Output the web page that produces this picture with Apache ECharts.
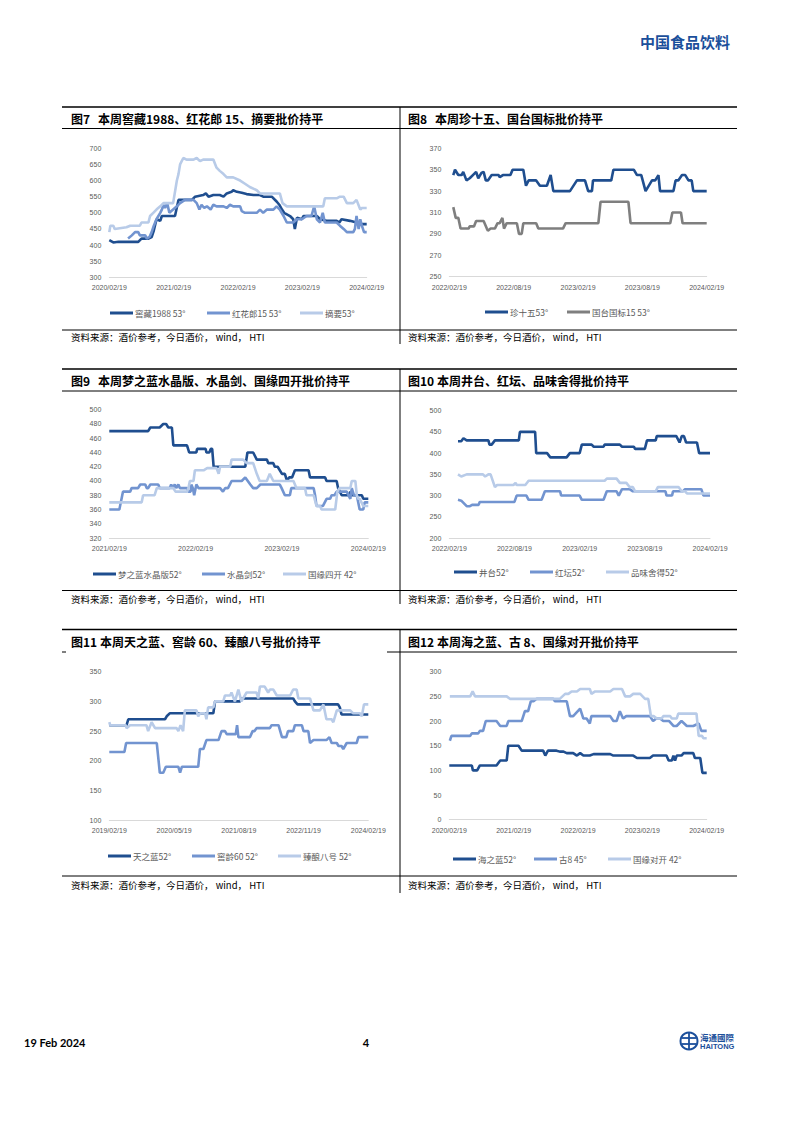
<!DOCTYPE html>
<html><head><meta charset="utf-8">
<script src="https://cdn.jsdelivr.net/npm/echarts@6/dist/echarts.min.js"></script>
<style>html,body{margin:0;padding:0;background:#fff}#page{width:793px;height:1122px}</style>
</head><body><div id="page"></div>
<script>
// ---------------- DATA (x = months since first tick) ----------------
const c7Ticks = ['2020/02/19','2021/02/19','2022/02/19','2023/02/19','2024/02/19'];
const c7Names = ['窖藏1988 53°','红花郎15 53°','摘要53°'];
const c7Jiaocang = [[0,415],[0.75,408],[1.7,410],[5.4,410],[6.0,420],[7.3,420],[7.9,425],[8.3,445],[8.8,480],[9.5,475],[9.8,490],[12.25,490],[12.9,540],[15.4,540],[16.0,550],[17.5,555],[18.0,560],[18.5,550],[19.4,555],[20.6,555],[21.3,550],[21.9,560],[22.8,565],[23.1,570],[23.8,565],[24.7,562],[25.6,558],[26.9,555],[28.1,555],[28.7,550],[30.3,550],[31.2,535],[31.7,525],[32.2,510],[32.6,500],[33.7,490],[34.3,480],[34.6,450],[35.0,485],[35.9,480],[36.2,490],[38.7,490],[39.3,480],[40.5,475],[42.4,475],[42.9,470],[43.3,480],[44.9,475],[46.1,470],[47.1,465],[48,465]];
const c7Honghualang = [[3.5,420],[4.2,430],[4.8,440],[5.4,440],[5.7,430],[6.7,430],[7.0,420],[7.5,425],[7.9,440],[8.3,460],[8.8,480],[9.5,500],[9.8,510],[10.1,525],[10.4,515],[10.8,530],[11.2,500],[11.9,510],[12.6,520],[13.2,530],[14.1,540],[15.7,540],[16.3,530],[16.8,510],[17.2,525],[17.7,515],[18.2,520],[18.9,510],[19.4,525],[20.0,520],[21.3,520],[21.9,515],[22.5,525],[23.1,520],[24.4,520],[24.7,505],[25.3,500],[27.5,500],[28.1,510],[28.7,500],[29.4,510],[30.6,510],[31.2,520],[31.8,510],[32.5,490],[33.1,470],[34.3,470],[35.0,480],[35.9,480],[36.8,490],[37.7,490],[38.2,520],[38.7,480],[39.3,470],[39.8,500],[40.2,470],[42.4,470],[43.0,460],[43.7,450],[44.3,440],[45.5,440],[45.8,450],[46.1,490],[46.5,450],[46.8,480],[47.1,460],[47.5,440],[48,440]];
const c7Zhaiyao = [[0,440],[0.2,460],[0.75,460],[1.0,450],[3.2,455],[3.9,460],[5.7,460],[6.0,470],[7.3,470],[7.6,490],[8.2,500],[8.8,510],[9.5,520],[10.1,530],[11.9,530],[12.3,570],[12.6,600],[12.9,620],[13.2,650],[13.8,670],[14.4,665],[15.7,665],[16.3,670],[16.9,660],[17.5,665],[19.4,665],[20.0,640],[20.6,630],[21.3,620],[21.9,610],[23.1,610],[24.4,600],[25.3,590],[26.2,580],[27.5,570],[28.1,560],[31.8,560],[32.3,530],[33.1,520],[39.9,520],[40.2,545],[42.4,545],[43.0,550],[43.7,550],[44.3,530],[45.5,530],[46.1,540],[46.8,510],[47.1,515],[48,515]];

const c8Ticks = ['2022/02/19','2022/08/19','2023/02/19','2023/08/19','2024/02/19'];
const c8Names = ['珍十五53°','国台国标15 53°'];
const c8Zhenshiwu = [[0.37,345],[0.53,350],[0.84,345],[1.15,345],[1.3,348],[1.6,340],[1.9,342],[2.2,345],[2.5,348],[2.7,342],[3.0,347],[3.2,348],[3.4,340],[3.6,340],[3.95,345],[4.6,345],[4.7,343],[5.0,345],[5.7,345],[5.9,350],[6.9,350],[7.15,335],[7.4,340],[8.1,340],[8.45,335],[9.1,335],[9.45,345],[9.7,330],[11.25,330],[11.9,340],[12.65,340],[12.95,330],[13.3,330],[13.4,340],[15.1,340],[15.3,350],[17.2,350],[17.5,345],[17.9,345],[18.3,330],[18.9,340],[19.2,340],[19.5,345],[19.65,330],[20.9,330],[21.1,340],[21.35,340],[21.7,345],[22.0,345],[22.3,340],[22.6,340],[22.75,330],[24,330]];
const c8Guotai = [[0.37,315],[0.6,305],[0.84,305],[1.05,295],[1.8,295],[1.9,297],[2.3,297],[2.5,302],[3.2,302],[3.5,295],[3.6,293],[3.85,295],[4.25,295],[4.5,300],[4.7,300],[4.95,305],[5.1,295],[5.35,300],[6.3,300],[6.5,290],[6.75,290],[6.9,300],[8.1,300],[8.3,295],[10.6,295],[10.85,300],[13.9,300],[14.1,320],[16.7,320],[16.9,300],[20.6,300],[20.8,310],[21.6,310],[21.75,300],[24,300]];

const c9Ticks = ['2021/02/19','2022/02/19','2023/02/19','2024/02/19'];
const c9Names = ['梦之蓝水晶版52°','水晶剑52°','国缘四开 42°'];
const c9Mengzhilan = [[0,470],[5.4,470],[5.7,475],[7.0,475],[7.5,480],[7.9,480],[8.2,475],[8.7,475],[8.9,450],[10.8,450],[11.1,440],[12.1,440],[12.2,445],[13.4,445],[13.5,440],[13.9,440],[14.1,445],[14.3,445],[14.5,420],[18.9,420],[19.2,440],[20.0,440],[20.5,430],[21.9,430],[22.1,425],[22.8,425],[23.0,420],[23.4,420],[24.0,410],[24.4,410],[24.7,400],[25.0,405],[25.4,405],[25.8,415],[27.7,415],[27.9,405],[30.0,405],[30.2,400],[31.6,400],[31.8,390],[32.3,380],[33.3,380],[33.5,385],[33.7,380],[35.1,380],[35.3,375],[36,375]];
const c9Shuijingjian = [[0,360],[1.4,360],[1.9,385],[2.9,385],[3.1,390],[4.0,390],[4.3,395],[5.0,395],[5.2,390],[5.4,390],[5.7,395],[6.8,395],[7.0,390],[8.4,390],[8.6,395],[8.8,390],[9.1,395],[9.3,390],[9.6,395],[9.8,390],[10.8,390],[11.0,385],[11.3,385],[11.4,395],[11.6,390],[11.8,380],[12.1,395],[12.4,390],[15.4,390],[15.8,385],[16.1,390],[16.5,390],[17.0,400],[18.4,400],[18.9,405],[19.6,395],[20.0,390],[20.5,390],[21.0,395],[23.7,395],[23.95,390],[24.4,380],[25.1,380],[25.3,390],[28.4,390],[28.6,380],[28.8,365],[29.7,365],[30.2,375],[30.7,375],[30.9,380],[31.3,380],[31.6,385],[33.0,385],[33.5,375],[33.7,390],[34.0,380],[34.4,380],[34.7,365],[34.8,360],[35.3,360],[35.5,370],[36,370]];
const c9Guoyuan4 = [[0,370],[4.5,370],[4.7,380],[6.3,380],[6.6,390],[8.9,390],[9.2,385],[10.8,385],[11.0,390],[11.2,400],[11.7,400],[11.9,415],[13.1,415],[13.6,418],[14.9,418],[15.2,410],[15.4,420],[16.8,420],[17.0,430],[18.6,430],[19.1,425],[20.0,425],[20.5,410],[20.9,400],[21.9,400],[22.3,410],[22.8,400],[25.6,400],[26.0,390],[27.2,390],[27.4,380],[28.4,380],[28.8,365],[29.3,365],[29.5,360],[31.4,360],[31.7,385],[32.0,390],[33.5,390],[33.7,400],[34.2,400],[34.4,380],[34.6,375],[34.8,375],[35.3,365],[36,365]];

const c10Ticks = ['2022/02/19','2022/08/19','2023/02/19','2023/08/19','2024/02/19'];
const c10Names = ['井台52°','红坛52°','品味舍得52°'];
const c10Jingtai = [[0.8,428],[1.1,428],[1.3,435],[1.6,430],[3.6,430],[3.7,420],[3.9,420],[4.2,430],[6.4,430],[6.5,450],[7.9,450],[8.0,400],[9.0,400],[9.3,390],[10.8,390],[11.1,400],[12.0,400],[12.2,420],[13.1,420],[13.3,415],[14.2,415],[14.3,420],[15.7,420],[15.9,415],[17.0,415],[17.1,410],[18.0,410],[18.2,430],[19.0,430],[19.1,440],[20.9,440],[21.2,425],[21.4,440],[21.6,440],[21.8,425],[22.8,425],[23.0,400],[24,400]];
const c10Hongtan = [[0.8,290],[1.1,288],[1.6,275],[1.9,275],[2.1,278],[2.7,278],[2.8,285],[6.0,285],[6.2,300],[7.1,300],[7.3,290],[8.5,290],[8.8,310],[10.2,310],[10.3,300],[12.0,300],[12.2,290],[14.2,290],[14.5,310],[15.4,310],[15.6,300],[15.9,315],[16.6,315],[16.9,310],[19.9,310],[20.0,300],[20.5,300],[20.6,310],[21.5,310],[21.7,315],[23.2,315],[23.4,300],[24,300]];
const c10Pinwei = [[0.8,350],[1.1,345],[1.6,350],[3.1,350],[3.3,345],[3.6,350],[3.8,350],[4.2,320],[4.4,325],[5.9,325],[6.1,330],[6.2,325],[7.0,325],[7.3,335],[14.3,335],[14.5,340],[15.4,340],[15.7,330],[16.3,330],[16.6,320],[16.9,320],[17.1,310],[19.0,310],[19.2,320],[21.1,320],[21.4,310],[21.7,310],[21.9,305],[24,305]];

const c11Ticks = ['2019/02/19','2020/05/19','2021/08/19','2022/11/19','2024/02/19'];
const c11Names = ['天之蓝52°','窖龄60 52°','臻酿八号 52°'];
const c11Tianzhilan = [[0,260],[4.0,260],[4.4,270],[12.9,270],[13.3,275],[14.0,280],[24.1,280],[24.5,300],[30.3,300],[30.7,305],[42.6,305],[43.0,300],[43.6,295],[53.0,295],[53.4,290],[53.8,278],[60,278]];
const c11Jiaoling = [[0,215],[3.5,215],[3.9,230],[11.0,230],[11.7,180],[12.5,180],[13.1,190],[16.0,190],[16.4,180],[16.8,190],[20.6,190],[21.0,220],[21.8,220],[22.5,235],[25.3,235],[26.0,250],[26.8,250],[27.2,245],[29.3,245],[29.6,260],[29.9,240],[32.6,240],[33.2,250],[33.6,250],[34.1,255],[37.2,255],[37.6,260],[39.2,260],[40.0,240],[41.0,240],[41.4,250],[42.6,250],[43.0,260],[44.6,260],[45.0,250],[46.1,250],[46.5,230],[47.3,235],[50.3,235],[51.0,240],[51.5,230],[52.7,230],[53.1,225],[53.8,225],[54.2,220],[55.0,230],[57.3,230],[57.7,240],[60,240]];
const c11Zhenniang = [[0,265],[0.2,260],[3.8,260],[4.0,255],[4.8,260],[8.6,260],[9.0,250],[9.8,265],[10.6,255],[15.6,255],[16.0,250],[16.5,260],[17.1,250],[17.5,285],[20.2,285],[20.6,275],[21.0,280],[22.2,280],[22.5,270],[22.9,290],[24.1,290],[24.5,300],[26.4,300],[26.8,310],[28.0,310],[28.3,315],[29.1,300],[29.9,320],[30.6,300],[31.8,315],[34.1,315],[34.5,305],[34.9,325],[36.0,325],[36.8,315],[37.2,320],[38.0,320],[38.8,310],[41.9,310],[42.6,320],[43.4,320],[43.8,305],[46.5,305],[47.3,285],[48.8,285],[49.6,295],[50.3,270],[51.5,270],[51.9,265],[52.7,285],[55.8,285],[56.5,280],[58.1,280],[58.5,275],[59.0,295],[60,295]];

const c12Ticks = ['2020/02/19','2021/02/19','2022/02/19','2023/02/19','2024/02/19'];
const c12Names = ['海之蓝52°','古8 45°','国缘对开 42°'];
const c12Haizhilan = [[0,110],[4.2,110],[4.4,100],[5.2,100],[5.7,110],[8.8,110],[9.5,120],[10.7,120],[11.0,150],[12.9,150],[13.5,140],[17.5,140],[17.9,130],[18.4,140],[20.0,140],[20.6,138],[21.3,138],[21.9,135],[23.1,135],[23.8,130],[24.4,135],[25.0,130],[26.2,130],[26.9,133],[30.0,133],[30.6,130],[34.3,130],[35.0,125],[37.4,125],[38.0,130],[40.5,130],[40.9,120],[41.5,120],[41.8,130],[42.1,120],[42.4,130],[43.3,130],[43.7,135],[45.5,135],[45.8,125],[46.8,125],[47.2,95],[48,95]];
const c12Gu8 = [[0.1,160],[0.4,170],[3.9,170],[4.2,175],[5.4,175],[5.7,180],[6.3,180],[6.8,200],[8.8,200],[9.5,190],[10.7,190],[11.0,200],[13.5,200],[14.1,220],[14.7,220],[15.2,240],[15.7,240],[16.3,245],[19.4,245],[19.7,240],[21.9,240],[22.5,210],[23.1,210],[24.4,225],[25.0,205],[25.6,205],[26.2,195],[26.5,210],[30.0,210],[30.6,200],[31.2,200],[31.8,220],[32.4,205],[33.0,210],[37.4,210],[38.0,200],[38.6,205],[39.3,205],[39.9,200],[41.0,200],[41.8,190],[42.4,190],[43.3,200],[44.3,190],[45.5,190],[46.5,195],[47.0,180],[48,180]];
const c12Guoyuan2 = [[0.1,250],[3.9,250],[4.35,260],[4.8,250],[10.7,250],[11.3,245],[20.6,245],[21.6,255],[22.2,255],[22.8,260],[23.8,260],[24.4,265],[26.2,265],[26.5,255],[27.2,260],[30.0,260],[30.6,265],[32.2,265],[32.8,250],[33.7,250],[34.3,255],[35.6,255],[36.5,245],[37.1,245],[37.6,210],[38.1,210],[38.7,205],[39.6,205],[39.9,210],[41.2,210],[41.5,205],[42.4,205],[42.7,215],[46.1,215],[46.5,170],[47.1,170],[47.4,165],[48,165]];

const titles = [
  ['图7','本周窖藏1988、红花郎 15、摘要批价持平'],
  ['图8','本周珍十五、国台国标批价持平'],
  ['图9','本周梦之蓝水晶版、水晶剑、国缘四开批价持平'],
  ['图10 本周井台、红坛、品味舍得批价持平',''],
  ['图11 本周天之蓝、窖龄 60、臻酿八号批价持平',''],
  ['图12 本周海之蓝、古 8、国缘对开批价持平','']
];
const sourceText = '资料来源：酒价参考，今日酒价， wind， HTI';

// ---------------- LAYOUT / STYLE ----------------
const CJK = "'Noto Sans CJK SC', sans-serif";
const NUM = "'Liberation Sans', 'Noto Sans CJK SC', sans-serif";
const DARK = '#1f4e8f', MID = '#7294d0', LIGHT = '#b8cbe8', GRAY = '#7f7f7f';

const panels = [
  {grid:{left:109.3, top:148.3, width:257.4, height:129}, xMax:48, xInt:12, ticks:c7Ticks, yMin:300, yMax:700, yInt:50,
   series:[[c7Names[0],c7Jiaocang,DARK],[c7Names[1],c7Honghualang,MID],[c7Names[2],c7Zhaiyao,LIGHT]], legY:313, legX:[110,207,300]},
  {grid:{left:449.3, top:148.3, width:257.4, height:128.4}, xMax:24, xInt:6, ticks:c8Ticks, yMin:250, yMax:370, yInt:20,
   series:[[c8Names[0],c8Zhenshiwu,DARK],[c8Names[1],c8Guotai,GRAY]], legY:312, legX:[485,567]},
  {grid:{left:109.3, top:409.7, width:259, height:128.3}, xMax:36, xInt:12, ticks:c9Ticks, yMin:320, yMax:500, yInt:20,
   series:[[c9Names[0],c9Mengzhilan,DARK],[c9Names[1],c9Shuijingjian,MID],[c9Names[2],c9Guoyuan4,LIGHT]], legY:574, legX:[93,202,283]},
  {grid:{left:449.3, top:410.7, width:260.7, height:127.3}, xMax:24, xInt:6, ticks:c10Ticks, yMin:200, yMax:500, yInt:50,
   series:[[c10Names[0],c10Jingtai,DARK],[c10Names[1],c10Hongtan,MID],[c10Names[2],c10Pinwei,LIGHT]], legY:572, legX:[454,530,606]},
  {grid:{left:109.3, top:671.7, width:259, height:148.6}, xMax:60, xInt:15, ticks:c11Ticks, yMin:100, yMax:350, yInt:50,
   series:[[c11Names[0],c11Tianzhilan,DARK],[c11Names[1],c11Jiaoling,MID],[c11Names[2],c11Zhenniang,LIGHT]], legY:856, legX:[108,192,278]},
  {grid:{left:449.3, top:671.7, width:257.4, height:148}, xMax:48, xInt:12, ticks:c12Ticks, yMin:0, yMax:300, yInt:50,
   series:[[c12Names[0],c12Haizhilan,DARK],[c12Names[1],c12Gu8,MID],[c12Names[2],c12Guoyuan2,LIGHT]], legY:859, legX:[453,534,608]}
];

const rows = [
  {top:107, under:128.5, src:330, srcY:337, bottom:344, title:118.3},
  {top:369, under:391, src:590.5, srcY:599, bottom:604, title:380.5},
  {top:629.5, under:652, src:876, srcY:885, bottom:893, title:641}
];

const grid = [], xAxis = [], yAxis = [], series = [], legend = [], graphic = [];
panels.forEach((p, i) => {
  grid.push(Object.assign({outerBoundsMode:'none', containLabel:false}, p.grid));
  xAxis.push({gridIndex:i, type:'value', min:0, max:p.xMax, interval:p.xInt,
    axisLine:{show:true, lineStyle:{color:'#d9d9d9', width:1}}, axisTick:{show:false}, splitLine:{show:false},
    axisLabel:{fontSize:7, color:'#595959', fontFamily:NUM, margin:7, showMinLabel:true, showMaxLabel:true, hideOverlap:false,
      formatter:(v)=>{const k=Math.round(v/p.xInt); return p.ticks[k] || '';}}});
  yAxis.push({gridIndex:i, type:'value', min:p.yMin, max:p.yMax, interval:p.yInt,
    axisLine:{show:false}, axisTick:{show:false}, splitLine:{show:false},
    axisLabel:{fontSize:7, color:'#595959', fontFamily:NUM, margin:8}});
  p.series.forEach((s, j) => {
    series.push({type:'line', name:s[0], xAxisIndex:i, yAxisIndex:i, data:s[1], symbol:'none', showSymbol:false,
      lineStyle:{width:2.6, color:s[2]}, itemStyle:{color:s[2]}, silent:true, animation:false});
    legend.push({data:[s[0]], left:p.legX[j], top:p.legY-6, padding:0, itemGap:0, itemWidth:23, itemHeight:3, icon:'rect',
      selectedMode:false, textStyle:{fontSize:8.5, color:'#595959', fontFamily:CJK, lineHeight:12, padding:[0,0,0,-3]}});
  });
});

function hline(x1, x2, y, w) { graphic.push({type:'line', shape:{x1:x1, y1:y, x2:x2, y2:y}, style:{stroke:'#000', lineWidth:w}}); }
function vline(x, y1, y2, w) { graphic.push({type:'line', shape:{x1:x, y1:y1, x2:x, y2:y2}, style:{stroke:'#000', lineWidth:w}}); }
function txt(x, y, s, size, weight, color, family, align) {
  graphic.push({type:'text', x:x, y:y, style:{text:s, fontSize:size, fontWeight:weight, fill:color, fontFamily:family, align:align||'left', verticalAlign:'middle'}});
}

rows.forEach((r, ri) => {
  hline(62, 737, r.top, 1.5);
  if (ri === 2) { hline(62, 66, r.under, 1); hline(387, 737, r.under, 1); }
  else hline(62, 737, r.under, 1);
  hline(62, 737, r.src, 1);
  vline(400, r.top, r.bottom, 1);
  txt(71, r.srcY, sourceText, 9.5, 'normal', '#000', CJK);
  txt(408, r.srcY, sourceText, 9.5, 'normal', '#000', CJK);
});
// titles
const titlePos = [[71,98,0],[408,435,0],[71,98,1],[408,0,1],[71,0,2],[408,0,2]];
titles.forEach((t, i) => {
  const tp = titlePos[i], y = rows[tp[2]].title;
  txt(tp[0], y, t[0], 12, 'bold', '#000', CJK);
  if (t[1]) txt(tp[1], y, t[1], 12, 'bold', '#000', CJK);
});
// header & footer
txt(730, 41, '中国食品饮料', 15, 'bold', '#1b4f9b', CJK, 'right');
txt(24, 1042, '19 Feb 2024', 11, 'bold', '#000', "Lato, 'Liberation Sans', sans-serif");
txt(366, 1042, '4', 11, 'bold', '#000', "Lato, 'Liberation Sans', sans-serif", 'center');
graphic.push({type:'circle', shape:{cx:689, cy:1041, r:8.5}, style:{fill:'none', stroke:'#1b4f9b', lineWidth:2}});
graphic.push({type:'line', shape:{x1:689, y1:1033, x2:689, y2:1049}, style:{stroke:'#1b4f9b', lineWidth:1.8}});
graphic.push({type:'line', shape:{x1:682, y1:1038, x2:696, y2:1038}, style:{stroke:'#1b4f9b', lineWidth:1.8}});
graphic.push({type:'line', shape:{x1:682, y1:1044, x2:696, y2:1044}, style:{stroke:'#1b4f9b', lineWidth:1.8}});
txt(700, 1036.5, '海通國際', 8.5, 'bold', '#1b4f9b', CJK);
txt(700, 1046, 'HAITONG', 7.5, 'bold', '#1b4f9b', "'Liberation Sans', sans-serif");

const chart = echarts.init(document.getElementById('page'), null, {renderer:'svg', width:793, height:1122});
chart.setOption({backgroundColor:'#fff', animation:false, grid, xAxis, yAxis, series, legend, graphic, tooltip:{show:false}});
</script></body></html>
